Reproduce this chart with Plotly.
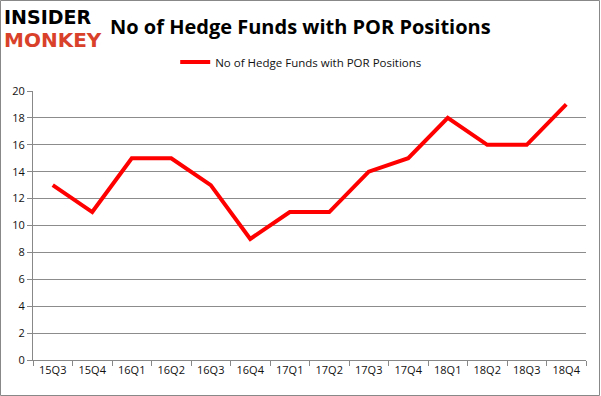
import plotly.graph_objects as go

quarters = ["15Q3", "15Q4", "16Q1", "16Q2", "16Q3", "16Q4", "17Q1", "17Q2",
            "17Q3", "17Q4", "18Q1", "18Q2", "18Q3", "18Q4"]
funds = [13, 11, 15, 15, 13, 9, 11, 11, 14, 15, 18, 16, 16, 19]
series_name = "No of Hedge Funds with POR Positions"
y_ticks = [0, 2, 4, 6, 8, 10, 12, 14, 16, 18, 20]

PW, PH = 553, 269

fig = go.Figure()
fig.add_trace(go.Scatter(
    x=quarters, y=funds, mode="lines", name=series_name,
    line=dict(color="#ff0000", width=4),
))

fig.update_layout(
    width=601, height=396,
    margin=dict(l=33, r=15, t=91, b=36, autoexpand=False),
    paper_bgcolor="white", plot_bgcolor="white",
    showlegend=True,
    legend=dict(orientation="h", x=0.485, xanchor="center",
                yref="container", y=1 - 62 / 396, yanchor="middle",
                font=dict(family="Open Sans", size=11.5, color="#111"),
                itemwidth=30),
    font=dict(family="Open Sans", size=11, color="#111"),
    xaxis=dict(
        showgrid=False, showline=True, linecolor="#888", linewidth=1,
        ticks="outside", ticklen=5, tickcolor="#888",
        tickson="boundaries", tickfont=dict(size=11, color="#111"),
        range=[-0.5, 13.5],
    ),
    yaxis=dict(
        range=[0, 20], tickvals=y_ticks, showgrid=True, gridcolor="#8c8c8c",
        gridwidth=1, showline=True, linecolor="#888", ticks="outside",
        ticklen=5, tickcolor="#888", zeroline=False,
        tickfont=dict(size=11, color="#111"),
    ),
    shapes=[dict(type="rect", xref="paper", yref="paper",
                 x0=(-33 + 0.5) / PW, y0=(-36 + 0.5) / PH,
                 x1=1 + (15 - 1.5) / PW, y1=1 + (91 - 0.5) / PH,
                 line=dict(color="#888", width=1), layer="below")],
)

fig.add_annotation(xref="paper", yref="paper", x=(300 - 33) / PW, y=1 + (91 - 26) / PH,
                   text="<b>No of Hedge Funds with POR Positions</b>", showarrow=False,
                   xanchor="center", yanchor="middle",
                   font=dict(family="Open Sans", size=20, color="black"))
fig.add_annotation(xref="paper", yref="paper", x=(2 - 33) / PW, y=1 + (91 - 17) / PH,
                   text="<b>INSIDER</b>", showarrow=False, xanchor="left", yanchor="middle",
                   font=dict(family="DejaVu Sans", size=19, color="black"))
fig.add_annotation(xref="paper", yref="paper", x=(2 - 33) / PW, y=1 + (91 - 40) / PH,
                   text="<b>MONKEY</b>", showarrow=False, xanchor="left", yanchor="middle",
                   font=dict(family="DejaVu Sans", size=20, color="#d9412b"))

fig.write_html("out.html", post_script="document.body.style.margin='0';",
               config={"displayModeBar": False})
